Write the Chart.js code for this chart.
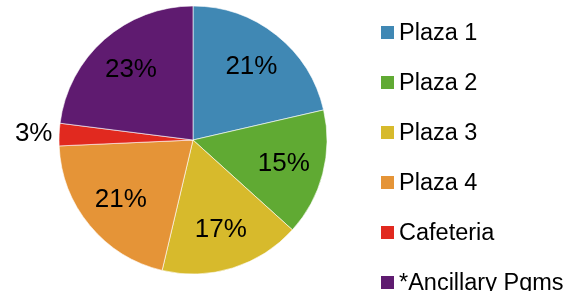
<!DOCTYPE html>
<html>
<head>
<meta charset="utf-8">
<title>Share by location</title>
<script src="https://cdn.jsdelivr.net/npm/chart.js@4.4.1/dist/chart.umd.min.js"></script>
<style>
html, body { margin: 0; padding: 0; background: #fff; }
#wrap { position: relative; width: 577px; height: 291px; overflow: hidden;
        font-family: "Liberation Sans", Arial, sans-serif; }
#pieBox { position: absolute; left: 0; top: 0; width: 386px; height: 280px; }
#legend { position: absolute; left: 381px; top: 7px; margin: 0; padding: 0; list-style: none; }
#legend li { height: 50px; display: flex; align-items: center; font-size: 23.5px; color: #000; white-space: nowrap; }
#legend .box { width: 13px; height: 13px; margin-right: 5px; flex: none; }
</style>
</head>
<body>
<div id="wrap">
  <div id="pieBox"><canvas id="pie"></canvas></div>
  <ul id="legend"></ul>
</div>
<script>
// slices, clockwise from 12 o'clock
const locations = ['Plaza 1', 'Plaza 2', 'Plaza 3', 'Plaza 4', 'Cafeteria', '*Ancillary Pgms'];
const shares = [21.4, 15.3, 17.0, 20.6, 2.7, 23.0];
const sliceColors = ['#4088b4', '#60aa33', '#d7ba2c', '#e59437', '#e1291f', '#5f1b70'];

// percent labels on the slices, small ones go outside
const pctLabels = {
    id: 'pctLabels',
    afterDatasetsDraw(chart) {
        const ctx = chart.ctx;
        const meta = chart.getDatasetMeta(0);
        const total = shares.reduce((a, b) => a + b, 0);
        ctx.save();
        ctx.font = '26px "Liberation Sans", Arial, sans-serif';
        ctx.fillStyle = '#000';
        ctx.textAlign = 'center';
        ctx.textBaseline = 'middle';
        meta.data.forEach((arc, i) => {
            const pct = shares[i] / total * 100;
            const mid = (arc.startAngle + arc.endAngle) / 2;
            const r = pct < 5 ? arc.outerRadius * 1.19 : arc.outerRadius * 0.7;
            ctx.fillText(Math.round(pct) + '%', arc.x + Math.cos(mid) * r, arc.y + Math.sin(mid) * r);
        });
        ctx.restore();
    }
};

const chart = new Chart(document.getElementById('pie'), {
    type: 'pie',
    data: {
        labels: locations,
        datasets: [{
            data: shares,
            backgroundColor: sliceColors,
            borderColor: '#ffffff',
            borderWidth: 0.6
        }]
    },
    options: {
        responsive: true,
        maintainAspectRatio: false,
        animation: false,
        radius: 134,
        layout: { padding: 0 },
        plugins: {
            legend: { display: false },
            tooltip: { enabled: false }
        }
    },
    plugins: [pctLabels]
});

// html legend built from the chart's own items
const legendList = document.getElementById('legend');
chart.data.labels.forEach((name, i) => {
    const li = document.createElement('li');
    const box = document.createElement('span');
    box.className = 'box';
    box.style.background = sliceColors[i];
    li.appendChild(box);
    li.appendChild(document.createTextNode(name));
    legendList.appendChild(li);
});
</script>
</body>
</html>
